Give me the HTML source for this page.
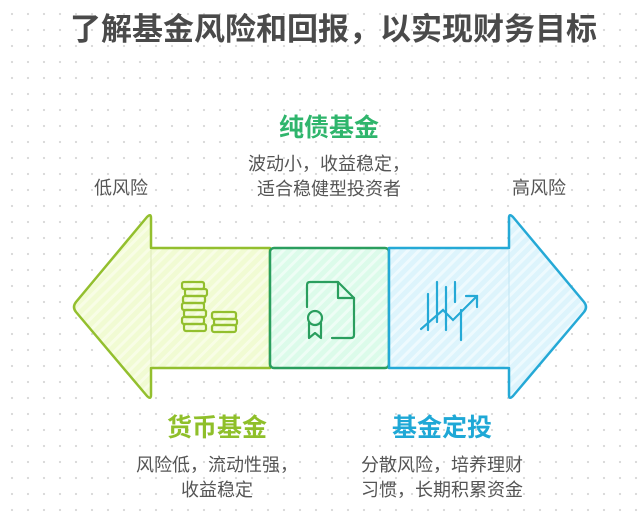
<!DOCTYPE html>
<html><head><meta charset="utf-8"><style>
html,body{margin:0;padding:0}
body{width:643px;height:517px;position:relative;overflow:hidden;background:#fff;
background-image:radial-gradient(circle,#d9d9d9 1px,transparent 1.3px);background-size:16px 16px;background-position:4px 6px;
font-family:"Liberation Sans","Noto Sans CJK SC",sans-serif;}
.t{position:absolute;white-space:nowrap;text-align:center}
</style></head><body>
<div class="t" style="left:12px;width:643px;top:10px;font-size:31px;font-weight:bold;color:#4a4a4a;line-height:40px;">了解基金风险和回报，以实现财务目标</div>
<div class="t" style="left:229px;width:200px;top:112px;font-size:25px;font-weight:bold;color:#2fb56c;line-height:32px;">纯债基金</div>
<div class="t" style="left:209px;width:240px;top:152px;font-size:18px;color:#555;line-height:25px;">波动小，收益稳定，<br>适合稳健型投资者</div>
<div class="t" style="left:71px;width:100px;top:174px;font-size:18px;color:#555;">低风险</div>
<div class="t" style="left:489px;width:100px;top:174px;font-size:18px;color:#555;">高风险</div>
<div class="t" style="left:117px;width:200px;top:412px;font-size:25px;font-weight:bold;color:#8fbf2a;line-height:32px;">货币基金</div>
<div class="t" style="left:97px;width:240px;top:453px;font-size:18px;color:#555;line-height:25px;">风险低，流动性强，<br>收益稳定</div>
<div class="t" style="left:342px;width:200px;top:412px;font-size:25px;font-weight:bold;color:#1fa8d6;line-height:32px;">基金定投</div>
<div class="t" style="left:322px;width:240px;top:453px;font-size:18px;color:#555;line-height:25px;">分散风险，培养理财<br>习惯，长期积累资金</div>
<svg width="643" height="517" style="position:absolute;left:0;top:0">
<defs>
<pattern id="h1" width="8" height="8" patternUnits="userSpaceOnUse" patternTransform="rotate(45)"><rect width="8" height="8" fill="#f1fbd3"/><rect width="3" height="8" fill="#f8fde6"/></pattern>
<pattern id="h2" width="8" height="8" patternUnits="userSpaceOnUse" patternTransform="rotate(45)"><rect width="8" height="8" fill="#dcfbea"/><rect width="3" height="8" fill="#eefdf5"/></pattern>
<pattern id="h3" width="8" height="8" patternUnits="userSpaceOnUse" patternTransform="rotate(45)"><rect width="8" height="8" fill="#ddf4fc"/><rect width="3" height="8" fill="#eefafe"/></pattern>
</defs>
<path d="M151,248 L151,218 Q151,213 147,217 L76,302 Q72,307 76,312 L147,396 Q151,400 151,395 L151,368 L270,368 L270,248 Z" fill="url(#h1)" stroke="#93bf2e" stroke-width="2.5" stroke-linejoin="round"/>
<rect x="270" y="248" width="119" height="120" rx="4" fill="url(#h2)" stroke="#2a9e5e" stroke-width="2.5"/>
<path d="M389,248 L509,248 L509,218 Q509,213 513,217 L584,302 Q588,307 584,312 L513,396 Q509,400 509,395 L509,368 L389,368 Z" fill="url(#h3)" stroke="#25a9d6" stroke-width="2.5" stroke-linejoin="round"/>
<line x1="151" y1="250" x2="151" y2="366" stroke="#dde9b8" stroke-width="1"/>
<line x1="509" y1="250" x2="509" y2="366" stroke="#bfe4f2" stroke-width="1"/>
<g fill="none" stroke="#93bf2e" stroke-width="2.2">
<rect x="182" y="282" width="22" height="7" rx="2"/><rect x="185" y="289" width="22" height="7" rx="2"/>
<rect x="183" y="296" width="22" height="7" rx="2"/><rect x="182" y="303" width="22" height="7" rx="2"/>
<rect x="184" y="310" width="22" height="7" rx="2"/><rect x="182" y="317" width="22" height="7" rx="2"/>
<rect x="184" y="324" width="22" height="7" rx="2"/>
<rect x="212" y="312" width="24" height="7" rx="2"/><rect x="214" y="319" width="23" height="6" rx="2"/><rect x="212" y="325" width="24" height="7" rx="2"/>
</g>
<g fill="none" stroke="#2a9e5e" stroke-width="2.2" stroke-linecap="round" stroke-linejoin="round">
<path d="M307,307 L307,285 Q307,282 310,282 L338,282 L354,298 L354,335 Q354,338 351,338 L332,338"/>
<path d="M338,282 L338,298 L354,298"/>
<circle cx="315" cy="318" r="7"/>
<path d="M309,323 L309,338 L315,333 L321,338 L321,323"/>
</g>
<g fill="none" stroke="#25a9d6" stroke-width="2.2" stroke-linecap="round">
<line x1="428" y1="294" x2="428" y2="330"/><line x1="437" y1="282" x2="437" y2="322"/>
<line x1="446" y1="287" x2="446" y2="330"/><line x1="455" y1="282" x2="455" y2="302"/>
<line x1="461" y1="310" x2="461" y2="340"/>
<path d="M421,329 L443,310 L453,320 L477,296"/><path d="M466,296 L477,296 L477,307"/>
</g>
</svg>
</body></html>
